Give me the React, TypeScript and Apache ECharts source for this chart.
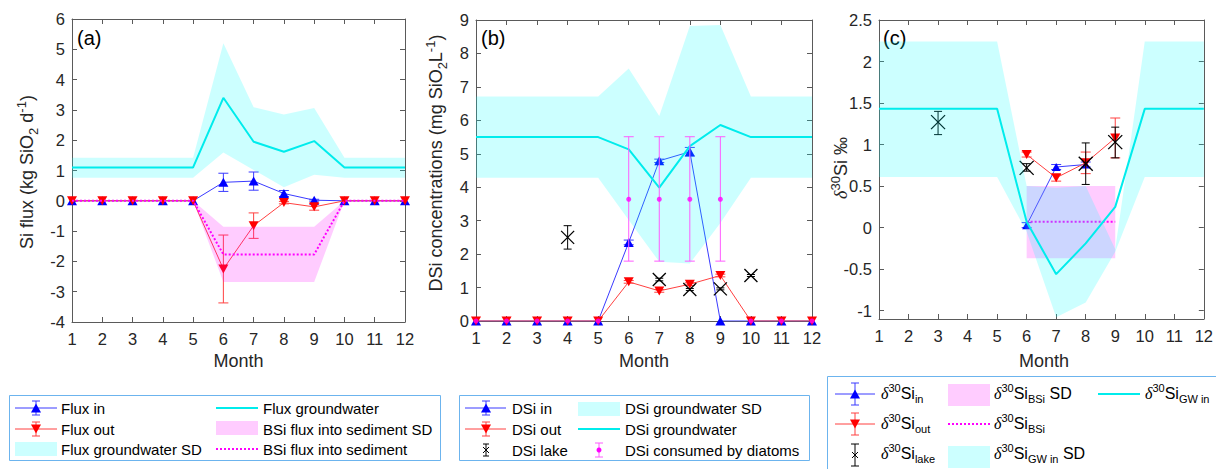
import React, { useEffect, useRef } from 'react';
import * as echarts from 'echarts';

// ---------- shared ----------
const months = [1, 2, 3, 4, 5, 6, 7, 8, 9, 10, 11, 12];

// ---------- panel (a): Si flux ----------
const fluxIn = [0, 0, 0, 0, 0, 0.61, 0.65, 0.24, 0.02, 0, 0, 0];
const fluxInErr = [0, 0, 0, 0, 0, 0.3, 0.3, 0.1, 0.03, 0, 0, 0];
const fluxOut = [0, 0, 0, 0, 0, -2.25, -0.82, -0.06, -0.2, 0, 0, 0];
const fluxOutErr = [0, 0, 0, 0, 0, 1.12, 0.42, 0.04, 0.11, 0, 0, 0];
const fluxGw = [1.1, 1.1, 1.1, 1.1, 1.1, 3.4, 1.95, 1.62, 1.97, 1.1, 1.1, 1.1];
const fluxGwUpper = [1.42, 1.42, 1.42, 1.42, 1.42, 5.2, 3.09, 2.85, 3.06, 1.42, 1.42, 1.42];
const fluxGwLower = [0.76, 0.76, 0.76, 0.76, 0.76, 1.59, 1.02, 0.45, 0.86, 0.76, 0.76, 0.76];
const bsiFlux = [0, 0, 0, 0, 0, -1.77, -1.77, -1.77, -1.77, 0, 0, 0];
const bsiFluxUpper = [0, 0, 0, 0, 0, -0.86, -0.86, -0.86, -0.86, 0, 0, 0];
const bsiFluxLower = [0, 0, 0, 0, 0, -2.68, -2.68, -2.68, -2.68, 0, 0, 0];

// ---------- panel (b): DSi concentrations ----------
const dsiIn = [0, 0, 0, 0, 0, 2.35, 4.79, 5.06, 0, 0, 0, 0];
const dsiInErr = [0, 0, 0, 0, 0, 0.07, 0.05, 0.13, 0, 0, 0, 0];
const dsiOut = [0, 0, 0, 0, 0, 1.17, 0.9, 1.1, 1.36, 0, 0, 0];
const dsiOutErr = [0, 0, 0, 0, 0, 0.04, 0.04, 0.04, 0.04, 0, 0, 0];
const dsiLakeMonths = [4, 7, 8, 9, 10];
const dsiLake = [2.5, 1.24, 0.94, 0.96, 1.36];
const dsiLakeErr = [0.35, 0.04, 0.03, 0.03, 0.03];
const dsiGw = [5.5, 5.5, 5.5, 5.5, 5.5, 5.13, 3.99, 5.23, 5.86, 5.5, 5.5, 5.5];
const dsiGwUpper = [6.71, 6.71, 6.71, 6.71, 6.71, 7.55, 6.13, 8.82, 8.85, 6.71, 6.71, 6.71];
const dsiGwLower = [4.28, 4.28, 4.28, 4.28, 4.28, 3.02, 1.77, 1.72, 2.93, 4.28, 4.28, 4.28];
const dsiDiatoms = [0, 0, 0, 0, 0, 3.64, 3.64, 3.64, 3.64, 0, 0, 0];
const dsiDiatomsLow = [0, 0, 0, 0, 0, 1.79, 1.79, 1.79, 1.79, 0, 0, 0];
const dsiDiatomsHigh = [0, 0, 0, 0, 0, 5.51, 5.51, 5.51, 5.51, 0, 0, 0];

// ---------- panel (c): delta30Si ----------
const d30InMonths = [6, 7, 8];
const d30In = [0.03, 0.73, 0.76];
const d30InErr = [0.03, 0.03, 0.03];
const d30OutMonths = [6, 7, 8, 9];
const d30Out = [0.88, 0.6, 0.78, 1.08];
const d30OutErr = [0.03, 0.04, 0.13, 0.24];
const d30LakeMonths = [3, 6, 8, 9];
const d30Lake = [1.27, 0.72, 0.77, 1.03];
const d30LakeLow = [1.12, 0.68, 0.52, 0.84];
const d30LakeHigh = [1.4, 0.77, 1.02, 1.21];
const d30BsiMonths = [6, 7, 8, 9];
const d30Bsi = [0.07, 0.07, 0.07, 0.07];
const d30BsiUpper = [0.5, 0.5, 0.5, 0.5];
const d30BsiLower = [-0.37, -0.37, -0.37, -0.37];
const d30Gw = [1.43, 1.43, 1.43, 1.43, 1.43, 0.07, -0.56, -0.19, 0.25, 1.43, 1.43, 1.43];
const d30GwUpper = [2.24, 2.24, 2.24, 2.24, 2.24, 0.5, 0.48, 0.5, -0.26, 2.24, 2.24, 2.24];
const d30GwLower = [0.61, 0.61, 0.61, 0.61, 0.61, -0.05, -1.08, -0.9, -0.29, 0.61, 0.61, 0.61];
const cTicks = [-1, -0.5, 0, 0.5, 1, 1.5, 2, 2.5];

// ---------- styling ----------
const FONT = '"Liberation Sans", Arial, Helvetica, sans-serif';
const TXT = '#262626';
const AXC = '#5a5a5a';
const BLUE = '#0000ff';
const BLUE_L = '#3a3aff';
const RED = '#ff0000';
const RED_L = '#ff4040';
const CYAN = '#00ecec';
const CYAN_FILL = 'rgba(0,255,255,0.2)';
const MAG = '#ff00ff';
const MAG_L = '#ff5cff';
const PINK_FILL = 'rgba(255,0,255,0.2)';
const BOX = '#6cb4ee';
const TICK_FS = 16.5;
const TITLE_FS = 18;

const grids = [
  { left: 72, top: 19, width: 333, height: 303 },
  { left: 476, top: 20, width: 336, height: 301 },
  { left: 879, top: 20, width: 330, height: 299 },
];

function xAxes(g: number) {
  const base: any = {
    gridIndex: g,
    type: 'value',
    min: 1,
    max: 12,
    interval: 1,
    axisLine: { show: true, onZero: false, lineStyle: { color: AXC, width: 1 } },
    axisTick: { show: true, inside: true, length: 5, lineStyle: { color: AXC } },
    splitLine: { show: false },
  };
  return [
    { ...base, position: 'bottom', axisLabel: { color: TXT, fontSize: TICK_FS, fontFamily: FONT, margin: 8 } },
    { ...base, position: 'top', axisLabel: { show: false } },
  ];
}

function yAxes(g: number, min: number, max: number, interval: number | null, custom?: number[]) {
  const base: any = {
    gridIndex: g,
    type: 'value',
    min,
    max,
    axisLine: { show: true, onZero: false, lineStyle: { color: AXC, width: 1 } },
    axisTick: { show: true, inside: true, length: 5, lineStyle: { color: AXC } },
    splitLine: { show: false },
  };
  if (interval !== null) base.interval = interval;
  if (custom) base.axisTick = { ...base.axisTick, customValues: custom };
  const label: any = { color: TXT, fontSize: TICK_FS, fontFamily: FONT, margin: 7 };
  if (custom) {
    label.customValues = custom;
    label.formatter = (v: number) => String(v);
  }
  return [
    { ...base, position: 'left', axisLabel: label },
    { ...base, position: 'right', axisLabel: { show: false } },
  ];
}

function bandSeries(g: number, xs: number[], upper: number[], lower: number[], fill: string, z: number) {
  return {
    type: 'custom',
    xAxisIndex: 2 * g,
    yAxisIndex: 2 * g,
    z,
    silent: true,
    data: xs.map((x, i) => [x, lower[i], upper[i]]),
    renderItem: (params: any, api: any) => {
      if (params.dataIndex !== 0) return null;
      const pts: number[][] = [];
      for (let i = 0; i < xs.length; i++) pts.push(api.coord([xs[i], upper[i]]));
      for (let i = xs.length - 1; i >= 0; i--) pts.push(api.coord([xs[i], lower[i]]));
      return { type: 'polygon', shape: { points: pts }, style: { fill } };
    },
  };
}

// rows: [x, lo, hi, (y for x-marker)]
function errSeries(g: number, rows: number[][], color: string, cap: number, z: number, xMark = 0) {
  return {
    type: 'custom',
    xAxisIndex: 2 * g,
    yAxisIndex: 2 * g,
    z,
    silent: true,
    data: rows,
    renderItem: (_p: any, api: any) => {
      const x = api.value(0);
      const a = api.coord([x, api.value(1)]);
      const b = api.coord([x, api.value(2)]);
      const st = { stroke: color, lineWidth: 1 };
      const children: any[] = [
        { type: 'line', shape: { x1: a[0], y1: a[1], x2: b[0], y2: b[1] }, style: st },
        { type: 'line', shape: { x1: a[0] - cap, y1: a[1], x2: a[0] + cap, y2: a[1] }, style: st },
        { type: 'line', shape: { x1: b[0] - cap, y1: b[1], x2: b[0] + cap, y2: b[1] }, style: st },
      ];
      if (xMark > 0) {
        const c = api.coord([x, api.value(3)]);
        const ms = { stroke: color, lineWidth: 1.3 };
        children.push(
          { type: 'line', shape: { x1: c[0] - xMark, y1: c[1] - xMark, x2: c[0] + xMark, y2: c[1] + xMark }, style: ms },
          { type: 'line', shape: { x1: c[0] - xMark, y1: c[1] + xMark, x2: c[0] + xMark, y2: c[1] - xMark }, style: ms },
        );
      }
      return { type: 'group', children };
    },
  };
}

function lineSeries(
  g: number, xs: number[], ys: number[], opts: { color: string; lineColor?: string; symbol?: string; size?: any; rotate?: number; width?: number; dash?: any; z: number }
) {
  return {
    type: 'line',
    xAxisIndex: 2 * g,
    yAxisIndex: 2 * g,
    z: opts.z,
    silent: true,
    data: xs.map((x, i) => [x, ys[i]]),
    symbol: opts.symbol || 'none',
    symbolSize: opts.size || 0,
    symbolRotate: opts.rotate || 0,
    showSymbol: !!opts.symbol,
    itemStyle: { color: opts.color },
    lineStyle: { color: opts.lineColor || opts.color, width: opts.width || 1, type: opts.dash || 'solid' },
  };
}

function symErr(xs: number[], ys: number[], es: number[]) {
  const out: number[][] = [];
  xs.forEach((x, i) => {
    if (es[i] > 0) out.push([x, ys[i] - es[i], ys[i] + es[i]]);
  });
  return out;
}

// ---------- graphic helpers ----------
const seg = (x1: number, y1: number, x2: number, y2: number, stroke: string, lineWidth = 1, lineDash?: number[]) => ({
  type: 'line',
  silent: true,
  shape: { x1, y1, x2, y2 },
  style: { stroke, lineWidth, lineDash },
});
const tri = (cx: number, cy: number, w: number, h: number, up: boolean, fill: string) => ({
  type: 'polygon',
  silent: true,
  shape: {
    points: up
      ? [[cx - w / 2, cy + h / 2], [cx + w / 2, cy + h / 2], [cx, cy - h / 2]]
      : [[cx - w / 2, cy - h / 2], [cx + w / 2, cy - h / 2], [cx, cy + h / 2]],
  },
  style: { fill },
});
const errIcon = (cx: number, cy: number, half: number, cap: number, stroke: string) => [
  seg(cx, cy - half, cx, cy + half, stroke),
  seg(cx - cap, cy - half, cx + cap, cy - half, stroke),
  seg(cx - cap, cy + half, cx + cap, cy + half, stroke),
];
const rectEl = (x: number, y: number, w: number, h: number, fill: string, stroke?: string) => ({
  type: 'rect',
  silent: true,
  shape: { x, y, width: w, height: h },
  style: { fill, stroke, lineWidth: stroke ? 1 : 0 },
});
function rich(fs: number, color: string) {
  const small = Math.round(fs * 0.7);
  return {
    d: { fontFamily: '"Liberation Serif", "DejaVu Serif", serif', fontStyle: 'italic', fontSize: fs, fill: color },
    sup: { fontSize: small, lineHeight: small, verticalAlign: 'top', fill: color, fontFamily: FONT },
    sub: { fontSize: small, lineHeight: small, verticalAlign: 'bottom', fill: color, fontFamily: FONT },
  };
}
const txt = (x: number, y: number, text: string, fontSize = 15, extra: any = {}) => {
  const fill = (extra.style && extra.style.fill) || '#000';
  return {
    type: 'text',
    silent: true,
    x,
    y,
    ...extra,
    style: {
      text,
      fontSize,
      fontFamily: FONT,
      fill,
      align: 'left',
      verticalAlign: 'middle',
      lineHeight: Math.round(fontSize * 1.4),
      rich: rich(fontSize, fill),
      ...(extra.style || {}),
    },
  };
};

function buildGraphic() {
  const g: any[] = [];
  // panel letters
  g.push(txt(77, 38, '(a)', 20), txt(481, 38, '(b)', 20), txt(883, 38, '(c)', 20));
  // x titles
  [238.5, 644, 1044].forEach((x) => g.push(txt(x, 361, 'Month', TITLE_FS, { style: { align: 'center', fill: TXT } })));
  // y titles
  g.push(
    txt(27, 172, 'Si flux (kg SiO{sub|2} d{sup|-1})', TITLE_FS, { rotation: Math.PI / 2, style: { align: 'center', fill: TXT } }),
    txt(436, 163, 'DSi concentrations (mg SiO{sub|2}L{sup|-1})', TITLE_FS, { rotation: Math.PI / 2, style: { align: 'center', fill: TXT } }),
    txt(841, 168, '{d|δ}{sup|30}Si ‰', TITLE_FS, { rotation: Math.PI / 2, style: { align: 'center', fill: TXT } }),
  );

  // legend (a)
  g.push(rectEl(9.5, 395.5, 431, 65, '#fff', BOX));
  g.push(seg(15, 408, 57, 408, BLUE_L), ...errIcon(36, 408, 7, 4, BLUE_L), tri(36, 408, 10, 9, true, BLUE));
  g.push(seg(15, 429, 57, 429, RED_L), ...errIcon(36, 429, 7, 4, RED_L), tri(36, 429, 10, 9, false, RED));
  g.push(rectEl(15, 442, 42, 14, CYAN_FILL));
  g.push(txt(61, 408, 'Flux in'), txt(61, 429, 'Flux out'), txt(61, 449, 'Flux groundwater SD'));
  g.push(seg(216, 408, 258, 408, CYAN, 2));
  g.push(rectEl(216, 421, 42, 14, PINK_FILL));
  g.push(seg(216, 449, 258, 449, MAG, 2, [2, 2]));
  g.push(txt(263, 408, 'Flux groundwater'), txt(263, 429, 'BSi flux into sediment SD'), txt(263, 449, 'BSi flux into sediment'));

  // legend (b)
  g.push(rectEl(459.5, 395.5, 350, 65, '#fff', BOX));
  g.push(seg(465, 408, 506, 408, BLUE_L), ...errIcon(486, 408, 7, 4, BLUE_L), tri(486, 408, 10, 9, true, BLUE));
  g.push(seg(465, 429, 506, 429, RED_L), ...errIcon(486, 429, 7, 4, RED_L), tri(486, 429, 10, 9, false, RED));
  g.push(...errIcon(486, 450, 6, 3, '#000'), seg(483, 447, 489, 453, '#000'), seg(483, 453, 489, 447, '#000'));
  g.push(txt(512, 408, 'DSi in'), txt(512, 429, 'DSi out'), txt(512, 450, 'DSi lake'));
  g.push(rectEl(578, 402, 42, 14, CYAN_FILL));
  g.push(seg(578, 429, 620, 429, CYAN, 2));
  g.push(...errIcon(599, 450, 7, 4, MAG_L), { type: 'circle', silent: true, shape: { cx: 599, cy: 450, r: 2.5 }, style: { fill: MAG } });
  g.push(txt(625, 408, 'DSi groundwater SD'), txt(625, 429, 'DSi groundwater'), txt(625, 450, 'DSi consumed by diatoms'));

  // legend (c)
  g.push(rectEl(827.5, 376.5, 400, 100, '#fff', BOX));
  g.push(seg(835, 394, 875, 394, BLUE_L), ...errIcon(855, 394, 11, 4, BLUE_L), tri(855, 394, 10, 9, true, BLUE));
  g.push(seg(835, 424, 875, 424, RED_L), ...errIcon(855, 424, 11, 4, RED_L), tri(855, 424, 10, 9, false, RED));
  g.push(...errIcon(855, 455, 11, 4, '#000'), seg(852, 452, 858, 458, '#000'), seg(852, 458, 858, 452, '#000'));
  g.push(
    txt(881, 393, '{d|δ}{sup|30}Si{sub|in}', 16),
    txt(881, 423, '{d|δ}{sup|30}Si{sub|out}', 16),
    txt(881, 453, '{d|δ}{sup|30}Si{sub|lake}', 16),
  );
  g.push(rectEl(948, 384, 42, 22, PINK_FILL));
  g.push(seg(948, 424, 990, 424, MAG, 2, [2, 2]));
  g.push(rectEl(948, 446, 42, 22, CYAN_FILL));
  g.push(
    txt(994, 393, '{d|δ}{sup|30}Si{sub|BSi} SD', 16),
    txt(994, 423, '{d|δ}{sup|30}Si{sub|BSi}', 16),
    txt(994, 453, '{d|δ}{sup|30}Si{sub|GW in} SD', 16),
  );
  g.push(seg(1098, 394, 1140, 394, CYAN, 2));
  g.push(txt(1145, 393, '{d|δ}{sup|30}Si{sub|GW in}', 16));
  return g;
}

function buildOption() {
  const series: any[] = [];
  // (a)
  series.push(errSeries(0, symErr(months, fluxIn, fluxInErr), BLUE_L, 5, 2));
  series.push(lineSeries(0, months, fluxIn, { color: BLUE, lineColor: BLUE_L, symbol: 'triangle', size: [10, 9], z: 2 }));
  series.push(errSeries(0, symErr(months, fluxOut, fluxOutErr), RED_L, 5, 3));
  series.push(lineSeries(0, months, fluxOut, { color: RED, lineColor: RED_L, symbol: 'triangle', size: [10, 9], rotate: 180, z: 3 }));
  series.push(bandSeries(0, months, fluxGwUpper, fluxGwLower, CYAN_FILL, 4));
  series.push(lineSeries(0, months, fluxGw, { color: CYAN, width: 2, z: 5 }));
  series.push(bandSeries(0, months, bsiFluxUpper, bsiFluxLower, PINK_FILL, 6));
  series.push(lineSeries(0, months, bsiFlux, { color: MAG, width: 2, dash: [2, 2], z: 7 }));

  // (b)
  series.push(errSeries(1, symErr(months, dsiIn, dsiInErr), BLUE_L, 5, 2));
  series.push(lineSeries(1, months, dsiIn, { color: BLUE, lineColor: BLUE_L, symbol: 'triangle', size: [10, 9], z: 2 }));
  series.push(errSeries(1, symErr(months, dsiOut, dsiOutErr), RED_L, 5, 3));
  series.push(lineSeries(1, months, dsiOut, { color: RED, lineColor: RED_L, symbol: 'triangle', size: [10, 9], rotate: 180, z: 3 }));
  series.push(
    errSeries(1, dsiLakeMonths.map((m, i) => [m, dsiLake[i] - dsiLakeErr[i], dsiLake[i] + dsiLakeErr[i], dsiLake[i]]), '#000', 4, 4, 6.5)
  );
  series.push(bandSeries(1, months, dsiGwUpper, dsiGwLower, CYAN_FILL, 5));
  series.push(lineSeries(1, months, dsiGw, { color: CYAN, width: 2, z: 6 }));
  series.push(
    errSeries(1, months.map((m, i) => [m, dsiDiatomsLow[i], dsiDiatomsHigh[i]]).filter((r) => r[2] > r[1]), MAG_L, 5, 7)
  );
  series.push({
    type: 'scatter',
    xAxisIndex: 2,
    yAxisIndex: 2,
    z: 7,
    silent: true,
    symbol: 'circle',
    symbolSize: 5,
    itemStyle: { color: MAG },
    data: months.map((m, i) => [m, dsiDiatoms[i]]),
  });

  // (c)
  series.push(errSeries(2, symErr(d30InMonths, d30In, d30InErr), BLUE_L, 5, 2));
  series.push(lineSeries(2, d30InMonths, d30In, { color: BLUE, lineColor: BLUE_L, symbol: 'triangle', size: [9, 8], z: 2 }));
  series.push(errSeries(2, symErr(d30OutMonths, d30Out, d30OutErr), RED_L, 5, 3));
  series.push(lineSeries(2, d30OutMonths, d30Out, { color: RED, lineColor: RED_L, symbol: 'triangle', size: [10, 9], rotate: 180, z: 3 }));
  series.push(errSeries(2, d30LakeMonths.map((m, i) => [m, d30LakeLow[i], d30LakeHigh[i], d30Lake[i]]), '#000', 4, 4, 7));
  series.push(bandSeries(2, d30BsiMonths, d30BsiUpper, d30BsiLower, PINK_FILL, 5));
  series.push(lineSeries(2, d30BsiMonths, d30Bsi, { color: MAG, width: 2, dash: [2, 2], z: 6 }));
  series.push(bandSeries(2, months, d30GwUpper, d30GwLower, CYAN_FILL, 7));
  series.push(lineSeries(2, months, d30Gw, { color: CYAN, width: 2, z: 8 }));

  return {
    animation: false,
    backgroundColor: '#ffffff',
    grid: grids,
    xAxis: [...xAxes(0), ...xAxes(1), ...xAxes(2)],
    yAxis: [...yAxes(0, -4, 6, 1), ...yAxes(1, 0, 9, 1), ...yAxes(2, -1.1, 2.5, null, cTicks)],
    series,
    graphic: buildGraphic(),
  };
}

export default function App() {
  const ref = useRef<HTMLDivElement>(null);
  useEffect(() => {
    if (!ref.current) return;
    const chart = echarts.init(ref.current, null, { renderer: 'svg' });
    chart.setOption(buildOption() as any);
    return () => chart.dispose();
  }, []);
  return (
    <div
      ref={ref}
      style={{ position: 'fixed', left: 0, top: 0, width: 1216, height: 469, background: '#fff' }}
    />
  );
}
